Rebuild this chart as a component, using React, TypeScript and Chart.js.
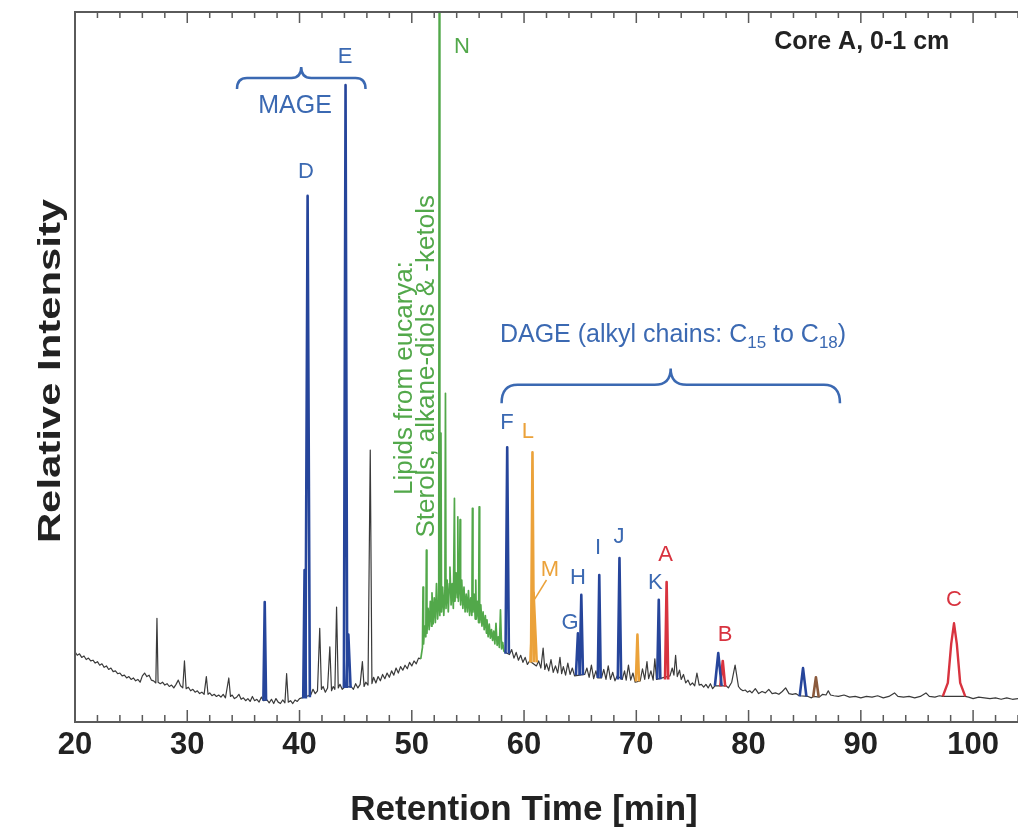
import { useEffect, useRef } from 'react';
import { Chart, registerables } from 'chart.js';

Chart.register(...registerables);

const FONT = '"Liberation Sans", Arial, Helvetica, sans-serif';

const BLUE_PEAK = '#26459b';
const BLUE_TEXT = '#3b69b2';
const GREEN = '#52a84a';
const ORANGE = '#eba23a';
const RED = '#d8333f';
const BROWN = '#8b5a3c';
const TRACE = '#3a3a3a';
const FRAME = '#5a5a5a';

// axis range (retention time, min) and relative intensity
const X_MIN = 20;
const X_MAX = 104;
const X_TICK_LABELS = [20, 30, 40, 50, 60, 70, 80, 90, 100];

// black chromatogram trace before the eucarya hump: [min, intensity]
const earlyTrace: [number, number][] = [
  [20.0, 9.9], [20.2, 9.4], [20.4, 9.6], [20.6, 9.1], [20.8, 9.3], [21.0, 8.8], [21.2, 9.0], [21.4, 8.6],
  [21.6, 8.7], [21.8, 8.3], [22.0, 8.5], [22.2, 8.0], [22.4, 8.2], [22.6, 7.7], [22.8, 7.9], [23.0, 7.4],
  [23.2, 7.6], [23.4, 7.1], [23.6, 7.2], [23.8, 6.8], [24.0, 6.9], [24.2, 6.5], [24.4, 6.6], [24.6, 6.2],
  [24.8, 6.4], [25.0, 6.0], [25.2, 6.2], [25.4, 5.8], [25.6, 6.0], [25.8, 5.6], [26.0, 6.5], [26.2, 6.9],
  [26.4, 6.4], [26.6, 6.6], [26.8, 5.9], [27.0, 5.8], [27.2, 5.5], [27.3, 14.6], [27.4, 5.6], [27.6, 5.4],
  [27.8, 5.6], [28.0, 5.2], [28.2, 5.4], [28.4, 5.0], [28.6, 5.2], [28.8, 4.8], [29.0, 5.3], [29.2, 5.9],
  [29.4, 5.1], [29.6, 4.8], [29.75, 8.6], [29.9, 4.7], [30.1, 4.9], [30.3, 4.4], [30.5, 4.6], [30.7, 4.2],
  [30.9, 4.4], [31.1, 4.0], [31.3, 4.2], [31.5, 3.9], [31.7, 6.4], [31.85, 3.9], [32.0, 4.1], [32.2, 3.7],
  [32.4, 3.9], [32.6, 3.6], [32.8, 3.8], [33.0, 3.5], [33.2, 3.9], [33.4, 3.4], [33.7, 6.2], [33.85, 3.6],
  [34.0, 3.8], [34.2, 3.3], [34.4, 3.5], [34.6, 3.9], [34.8, 3.2], [35.0, 3.4], [35.2, 3.0], [35.4, 3.3],
  [35.6, 2.9], [35.8, 3.6], [36.0, 3.0], [36.2, 3.2], [36.4, 2.8], [36.6, 3.5], [36.8, 3.0], [37.1, 3.1],
  [37.3, 2.7], [37.5, 3.2], [37.7, 2.6], [37.9, 3.3], [38.1, 2.8], [38.3, 2.6], [38.5, 3.1], [38.7, 2.7],
  [38.85, 6.8], [39.0, 2.8], [39.2, 3.0], [39.4, 2.6], [39.6, 3.1], [39.8, 2.9], [40.0, 3.3], [40.2, 3.4],
  [41.0, 3.8], [41.2, 4.6], [41.4, 4.0], [41.6, 4.4], [41.8, 13.2], [41.95, 4.6], [42.1, 5.0], [42.3, 4.2],
  [42.5, 4.8], [42.7, 10.6], [42.85, 4.4], [43.0, 5.0], [43.15, 4.6], [43.3, 16.2], [43.45, 4.8], [43.6, 5.3],
  [43.8, 4.6], [44.0, 4.9], [44.6, 5.0], [44.8, 4.6], [45.0, 5.4], [45.2, 4.8], [45.4, 5.3], [45.6, 8.5],
  [45.75, 5.0], [45.9, 5.6], [46.1, 5.2], [46.3, 38.3], [46.45, 5.4], [46.6, 6.3], [46.8, 5.5], [47.0, 6.4],
  [47.2, 5.8], [47.4, 6.7], [47.6, 6.1], [47.8, 6.9], [48.0, 6.3], [48.2, 7.2], [48.4, 6.6], [48.6, 7.6],
  [48.8, 6.9], [49.0, 7.8], [49.2, 7.3], [49.4, 8.0], [49.6, 7.5], [49.8, 8.4], [50.0, 7.9], [50.2, 8.6],
  [50.4, 8.2], [50.6, 9.0], [50.8, 8.9],
];

// black chromatogram trace after the hump
const lateTrace: [number, number][] = [
  [58.35, 9.8], [58.7, 9.5], [58.9, 10.2], [59.1, 9.0], [59.3, 9.8], [59.5, 8.7], [59.7, 9.4], [59.9, 8.4],
  [60.1, 9.1], [60.3, 8.1], [60.5, 8.6], [61.1, 7.9], [61.3, 8.6], [61.5, 7.6], [61.7, 10.4], [61.85, 7.4],
  [62.0, 8.2], [62.2, 7.2], [62.4, 8.8], [62.6, 7.0], [62.8, 7.9], [63.0, 6.9], [63.2, 9.1], [63.35, 6.8],
  [63.5, 7.8], [63.7, 6.6], [63.9, 8.3], [64.1, 6.7], [64.3, 7.6], [64.5, 6.5], [65.4, 6.7], [65.6, 7.6],
  [65.8, 6.3], [66.0, 8.0], [66.2, 6.1], [66.4, 7.2], [66.55, 6.2], [66.9, 6.2], [67.1, 7.4], [67.3, 6.0],
  [67.5, 7.9], [67.7, 6.0], [67.9, 7.0], [68.1, 5.8], [68.3, 6.5], [68.75, 6.0], [68.95, 7.2], [69.1, 5.9],
  [69.3, 8.0], [69.5, 5.9], [69.7, 6.9], [69.9, 5.6], [70.35, 5.8], [70.55, 7.5], [70.75, 6.0], [70.95, 8.5],
  [71.1, 6.1], [71.3, 7.2], [71.5, 5.9], [71.65, 8.9], [71.8, 6.0], [73.0, 6.5], [73.2, 7.6], [73.35, 6.6],
  [73.5, 9.4], [73.65, 6.4], [73.85, 7.3], [74.0, 6.0], [74.2, 6.7], [74.4, 5.5], [74.6, 5.9], [74.8, 5.2],
  [75.0, 5.5], [75.2, 5.1], [75.4, 6.9], [75.6, 5.2], [75.8, 5.3], [76.0, 4.9], [76.2, 5.3], [76.4, 4.8],
  [76.6, 5.4], [76.8, 4.7], [77.0, 5.1], [78.0, 5.1], [78.2, 4.8], [78.5, 5.6], [78.8, 8.0], [79.1, 5.0],
  [79.3, 4.6], [79.5, 4.4], [79.7, 4.5], [79.9, 4.2], [80.1, 4.4], [80.3, 4.1], [80.6, 4.7], [80.9, 4.0],
  [81.2, 4.3], [81.5, 4.1], [81.8, 4.6], [82.1, 4.0], [82.4, 4.1], [82.7, 3.9], [83.0, 4.3], [83.3, 4.8],
  [83.6, 4.0], [83.9, 3.9], [84.2, 4.0], [84.5, 3.7], [85.3, 3.6], [85.6, 3.4], [85.8, 3.6], [86.3, 3.5],
  [86.6, 3.9], [86.9, 3.8], [87.1, 4.4], [87.3, 3.8], [87.6, 3.7], [88.0, 3.6], [88.5, 3.8], [89.0, 3.5],
  [89.5, 3.6], [90.0, 3.4], [90.5, 3.6], [91.0, 3.5], [91.5, 3.7], [92.0, 3.4], [92.5, 3.6], [93.0, 4.1],
  [93.3, 3.6], [93.8, 3.5], [94.3, 3.6], [94.8, 3.4], [95.3, 3.6], [95.8, 4.1], [96.1, 3.6], [96.6, 3.5],
  [97.0, 3.7], [97.3, 3.6], [99.3, 3.6], [99.6, 3.5], [100.0, 3.3], [100.5, 3.5], [101.0, 3.4], [101.5, 3.3],
  [102.0, 3.4], [102.5, 3.2], [103.0, 3.4], [103.5, 3.2], [104.0, 3.3],
];

// green lipids from eucarya (incl. peak N, off scale)
const eucaryaTrace: [number, number][] = [
  [50.8, 8.9], [50.95, 10.5], [51.0, 19.0], [51.05, 11.0], [51.15, 13.5], [51.25, 12.0], [51.3, 24.2],
  [51.35, 12.5], [51.45, 16.0], [51.55, 13.0], [51.65, 17.0], [51.75, 13.5], [51.8, 18.2], [51.9, 13.8],
  [52.0, 17.5], [52.1, 14.0], [52.2, 19.5], [52.3, 14.5], [52.4, 17.0], [52.45, 125], [52.5, 15.0],
  [52.6, 40.7], [52.65, 15.5], [52.75, 19.0], [52.85, 15.0], [52.95, 18.5], [53.0, 46.3], [53.05, 16.0],
  [53.15, 20.0], [53.25, 15.5], [53.35, 19.5], [53.4, 21.8], [53.5, 16.5], [53.6, 19.5], [53.7, 16.0],
  [53.8, 31.5], [53.85, 17.0], [53.95, 21.0], [54.05, 17.5], [54.1, 28.9], [54.15, 17.0], [54.25, 19.5],
  [54.3, 28.5], [54.35, 16.5], [54.45, 20.0], [54.55, 16.0], [54.65, 19.0], [54.75, 15.5], [54.85, 18.0],
  [54.95, 15.5], [55.05, 18.5], [55.15, 15.0], [55.25, 17.5], [55.35, 15.0], [55.4, 30.1], [55.45, 15.5],
  [55.55, 18.0], [55.65, 14.5], [55.7, 20.0], [55.75, 14.5], [55.85, 17.0], [55.95, 14.0], [56.0, 30.3],
  [56.05, 14.0], [56.15, 16.5], [56.25, 13.5], [56.35, 15.5], [56.45, 13.0], [56.55, 15.0], [56.65, 12.5],
  [56.7, 14.4], [56.8, 12.0], [56.9, 13.8], [57.0, 11.8], [57.1, 13.0], [57.2, 11.5], [57.3, 12.8],
  [57.4, 11.0], [57.5, 13.9], [57.6, 10.8], [57.7, 12.0], [57.8, 10.5], [57.9, 15.8], [58.0, 10.3],
  [58.1, 11.2], [58.2, 10.0], [58.35, 9.8],
];

// blue ether lipid peaks (MAGE / DAGE)
const bluePeakTimes = [36.9, 40.45, 40.72, 44.1, 44.35, 58.5, 64.8, 65.1, 66.7, 68.5, 72.0, 77.3, 84.85];
const bluePeakApex = [16.9, 21.4, 74.1, 89.7, 12.3, 38.7, 12.5, 17.9, 20.7, 23.1, 17.2, 9.7, 7.6];
const bluePeakBase = [3.0, 3.3, 3.5, 4.8, 4.8, 9.6, 6.6, 6.6, 6.2, 6.0, 6.0, 5.1, 3.6];
const bluePeakHalfWidth = [0.12, 0.12, 0.2, 0.15, 0.2, 0.15, 0.18, 0.15, 0.13, 0.15, 0.14, 0.3, 0.3];

// orange peaks (L, M, small one)
const orangePeakTimes = [60.75, 60.85, 70.1];
const orangePeakApex = [38.0, 18.2, 12.3];
const orangePeakBase = [8.4, 8.4, 5.7];
const orangePeakHalfWidth = [0.13, 0.28, 0.14];

// red peaks (A, B)
const redPeakTimes = [72.7, 77.7];
const redPeakApex = [19.7, 8.6];
const redPeakBase = [6.0, 5.0];
const redPeakHalfWidth = [0.14, 0.22];

// red peak C (broad)
const peakC: [number, number][] = [
  [97.3, 3.6], [97.75, 5.5], [98.05, 11.0], [98.3, 13.9], [98.55, 11.0], [98.85, 5.5], [99.3, 3.6],
];

const brownPeakTimes = [86.0];
const brownPeakApex = [6.3];
const brownPeakBase = [3.5];
const brownPeakHalfWidth = [0.25];

// peak letters: text, time, intensity, colour
const peakLabels = ['D', 'E', 'F', 'L', 'M', 'G', 'H', 'I', 'J', 'K', 'A', 'B', 'C', 'N'];
const peakLabelTimes = [40.57, 44.05, 58.48, 60.35, 62.3, 64.1, 64.8, 66.6, 68.45, 71.7, 72.6, 77.9, 98.3, 54.47];
const peakLabelValues = [77.5, 93.7, 42.1, 40.8, 21.4, 13.9, 20.3, 24.5, 26.1, 19.6, 23.5, 12.3, 17.2, 95.1];
const peakLabelColors = [
  BLUE_TEXT, BLUE_TEXT, BLUE_TEXT, ORANGE, ORANGE, BLUE_TEXT, BLUE_TEXT, BLUE_TEXT, BLUE_TEXT, BLUE_TEXT,
  RED, RED, RED, GREEN,
];

function pts(list: [number, number][]) {
  return list.map(([x, y]) => ({ x, y }));
}

function peakSets(times: number[], apex: number[], base: number[], hw: number[], color: string, width: number) {
  return times.map((t, i) => ({
    data: [
      { x: t - hw[i], y: base[i] },
      { x: t, y: apex[i] },
      { x: t + hw[i], y: base[i] },
    ],
    borderColor: color,
    borderWidth: width,
    borderJoinStyle: 'round' as const,
    pointRadius: 0,
    tension: 0,
    order: 1,
  }));
}

function drawBrace(ctx: CanvasRenderingContext2D, xL: number, xR: number, xTip: number, yEnd: number, yMid: number, yTip: number, r: number) {
  ctx.beginPath();
  ctx.moveTo(xL, yEnd);
  ctx.quadraticCurveTo(xL, yMid, xL + r, yMid);
  ctx.lineTo(xTip - r, yMid);
  ctx.quadraticCurveTo(xTip, yMid, xTip, yTip);
  ctx.moveTo(xR, yEnd);
  ctx.quadraticCurveTo(xR, yMid, xR - r, yMid);
  ctx.lineTo(xTip + r, yMid);
  ctx.quadraticCurveTo(xTip, yMid, xTip, yTip);
  ctx.stroke();
}

const decorations = {
  id: 'decorations',
  afterDatasetsDraw(chart: Chart) {
    const { ctx, chartArea } = chart;
    const xs = chart.scales.x;
    const ys = chart.scales.y;
    const px = (t: number) => xs.getPixelForValue(t);
    const py = (v: number) => ys.getPixelForValue(v);
    ctx.save();

    // frame (no right edge visible)
    ctx.strokeStyle = FRAME;
    ctx.lineWidth = 2;
    ctx.beginPath();
    ctx.moveTo(chartArea.right + 2, chartArea.top);
    ctx.lineTo(chartArea.left, chartArea.top);
    ctx.lineTo(chartArea.left, chartArea.bottom);
    ctx.lineTo(chartArea.right + 2, chartArea.bottom);
    ctx.stroke();

    // inward ticks every 2 min, longer every 10 min
    ctx.lineWidth = 1.5;
    ctx.beginPath();
    for (let t = X_MIN + 2; t <= X_MAX; t += 2) {
      const major = t % 10 === 0;
      const x = px(t);
      ctx.moveTo(x, chartArea.bottom);
      ctx.lineTo(x, chartArea.bottom - (major ? 12 : 7));
      ctx.moveTo(x, chartArea.top);
      ctx.lineTo(x, chartArea.top + (major ? 11 : 6));
    }
    ctx.stroke();

    ctx.textAlign = 'center';
    ctx.textBaseline = 'middle';

    // axis titles
    ctx.fillStyle = '#222';
    ctx.font = `bold 35px ${FONT}`;
    ctx.fillText('Retention Time [min]', 524, 810);
    ctx.save();
    ctx.translate(51, 371);
    ctx.rotate(-Math.PI / 2);
    ctx.scale(1.35, 1);
    ctx.font = `bold 31px ${FONT}`;
    ctx.fillText('Relative Intensity', 0, 0);
    ctx.restore();

    // sample tag
    ctx.font = `bold 25px ${FONT}`;
    ctx.fillText('Core A, 0-1 cm', px(90.08), py(95.7));

    // peak letters
    ctx.font = `22px ${FONT}`;
    peakLabels.forEach((txt, i) => {
      ctx.fillStyle = peakLabelColors[i];
      ctx.fillText(txt, px(peakLabelTimes[i]), py(peakLabelValues[i]));
    });

    // leader line for M
    ctx.strokeStyle = ORANGE;
    ctx.lineWidth = 1.5;
    ctx.beginPath();
    ctx.moveTo(px(62.0), py(20.0));
    ctx.lineTo(px(60.95), py(17.3));
    ctx.stroke();

    // MAGE group
    ctx.fillStyle = BLUE_TEXT;
    ctx.font = `25px ${FONT}`;
    ctx.fillText('MAGE', px(39.6), py(86.8));
    ctx.strokeStyle = BLUE_TEXT;
    ctx.lineWidth = 2.5;
    drawBrace(ctx, px(34.43), px(45.88), px(40.15), py(89.15), py(90.7), py(92.25), 10);

    // DAGE group with subscripts
    const parts: [string, boolean][] = [
      ['DAGE (alkyl chains: C', false], ['15', true], [' to C', false], ['18', true], [')', false],
    ];
    const mainFont = `25px ${FONT}`;
    const subFont = `17px ${FONT}`;
    let total = 0;
    parts.forEach(([s, sub]) => {
      ctx.font = sub ? subFont : mainFont;
      total += ctx.measureText(s).width;
    });
    let cx = px(73.27) - total / 2;
    const cy = py(54.5);
    ctx.textAlign = 'left';
    parts.forEach(([s, sub]) => {
      ctx.font = sub ? subFont : mainFont;
      ctx.fillText(s, cx, sub ? cy + 8 : cy);
      cx += ctx.measureText(s).width;
    });
    ctx.textAlign = 'center';
    drawBrace(ctx, px(58.0), px(88.14), px(73.06), py(44.9), py(47.5), py(49.8), 16);

    // eucarya lipid label, rotated
    ctx.fillStyle = GREEN;
    ctx.font = `26px ${FONT}`;
    ctx.save();
    ctx.translate(px(49.4), py(48.45));
    ctx.rotate(-Math.PI / 2);
    ctx.fillText('Lipids from eucarya:', 0, 0);
    ctx.restore();
    ctx.save();
    ctx.translate(px(51.36), py(50.1));
    ctx.rotate(-Math.PI / 2);
    ctx.fillText('Sterols, alkane-diols & -ketols', 0, 0);
    ctx.restore();

    ctx.restore();
  },
};

export default function App() {
  const canvasRef = useRef<HTMLCanvasElement>(null);
  const chartRef = useRef<Chart | null>(null);

  useEffect(() => {
    if (!canvasRef.current) return;
    if (chartRef.current) chartRef.current.destroy();

    const traceStyle = { pointRadius: 0, tension: 0, borderJoinStyle: 'round' as const };

    const datasets: any[] = [
      ...peakSets(bluePeakTimes, bluePeakApex, bluePeakBase, bluePeakHalfWidth, BLUE_PEAK, 2.6),
      ...peakSets(orangePeakTimes, orangePeakApex, orangePeakBase, orangePeakHalfWidth, ORANGE, 2.6),
      ...peakSets(redPeakTimes, redPeakApex, redPeakBase, redPeakHalfWidth, RED, 2.6),
      ...peakSets(brownPeakTimes, brownPeakApex, brownPeakBase, brownPeakHalfWidth, BROWN, 2.6),
      { data: pts(peakC), borderColor: RED, borderWidth: 2.4, order: 1, ...traceStyle },
      { data: pts(eucaryaTrace), borderColor: GREEN, borderWidth: 1.7, order: 2, ...traceStyle },
      { data: pts(earlyTrace), borderColor: TRACE, borderWidth: 1.2, order: 3, ...traceStyle },
      { data: pts(lateTrace), borderColor: TRACE, borderWidth: 1.2, order: 3, ...traceStyle },
    ];

    chartRef.current = new Chart(canvasRef.current, {
      type: 'line',
      data: { datasets },
      options: {
        animation: false,
        responsive: true,
        maintainAspectRatio: false,
        layout: { padding: { top: 12, left: 75, right: 0, bottom: 0 } },
        plugins: { legend: { display: false }, tooltip: { enabled: false } },
        scales: {
          x: {
            type: 'linear',
            min: X_MIN,
            max: X_MAX,
            afterFit: (scale: any) => {
              scale.height = 112;
            },
            afterBuildTicks: (scale: any) => {
              scale.ticks = X_TICK_LABELS.map((value) => ({ value }));
            },
            grid: { display: false, drawTicks: false },
            border: { display: false },
            ticks: {
              padding: 5,
              maxRotation: 0,
              autoSkip: false,
              color: '#222',
              font: { family: FONT, size: 31, weight: 'bold' },
            },
          },
          y: {
            display: false,
            min: 0,
            max: 100,
          },
        },
      },
      plugins: [decorations],
    });

    return () => {
      if (chartRef.current) {
        chartRef.current.destroy();
        chartRef.current = null;
      }
    };
  }, []);

  return (
    <div style={{ position: 'absolute', left: 0, top: 0, width: 1018, height: 834, background: '#fff' }}>
      <canvas ref={canvasRef} />
    </div>
  );
}
